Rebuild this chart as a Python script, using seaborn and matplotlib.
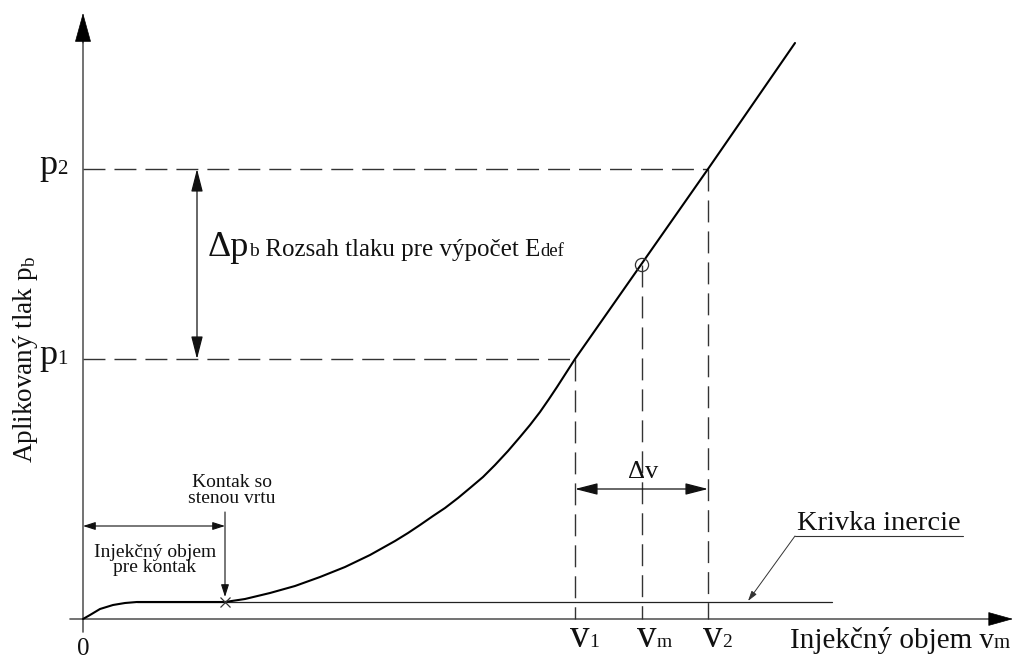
import matplotlib
matplotlib.use("Agg")
import matplotlib.pyplot as plt
import seaborn as sns

# loading curve (volume, pressure), arbitrary units
load_v = [0.0, 0.07, 0.17, 0.30, 0.42, 0.54, 1.42, 1.62, 1.87, 2.12, 2.37, 2.62, 2.87, 3.12,
          3.25, 3.37, 3.50, 3.62, 3.75, 3.87, 4.00, 4.12, 4.25, 4.37, 4.47, 4.57, 4.66,
          4.74, 4.83, 4.92, 6.25, 7.12]
load_p = [0.0, 0.04, 0.10, 0.14, 0.16, 0.17, 0.17, 0.20, 0.26, 0.33, 0.42, 0.52, 0.64, 0.78,
          0.86, 0.94, 1.03, 1.11, 1.21, 1.31, 1.42, 1.54, 1.68, 1.82, 1.94, 2.07, 2.20,
          2.32, 2.46, 2.60, 4.50, 5.76]

# inertia curve (flat part)
inertia_v = [0.54, 7.49]
inertia_p = [0.17, 0.17]

v_contact = 1.42
p_contact = 0.17

v_marks = [4.92, 5.59, 6.25]
v_tops = [2.60, 3.54, 4.50]
v_names = ["1", "m", "2"]

p_marks = [2.60, 4.50]
p_ends = [4.92, 6.25]
p_names = ["1", "2"]

v_mid, p_mid = 5.59, 3.54

sns.set_style("white")
plt.rcParams["font.family"] = ["Liberation Serif", "DejaVu Serif"]
plt.rcParams["mathtext.fontset"] = "custom"
plt.rcParams["mathtext.rm"] = "Liberation Serif"
plt.rcParams["mathtext.it"] = "Liberation Serif:italic"
plt.rcParams["lines.scale_dashes"] = False

fig = plt.figure(figsize=(10.16, 6.58), dpi=100)
ax = fig.add_axes([0, 0, 1, 1])
ax.set_xlim(-0.83, 9.33)
ax.set_ylim(-0.39, 6.19)
ax.axis("off")
renderer = fig.canvas.get_renderer()

INK = "#111111"
AXC = "#5a5a5a"
DASH = (0, (15.8, 6.5))


def arrow(x0, y0, x1, y1, style="-|>", hl=14.0, hw=3.6, lw=0.9, color=INK):
    ax.annotate("", xy=(x1, y1), xytext=(x0, y0),
                arrowprops=dict(arrowstyle=f"{style},head_length={hl},head_width={hw}",
                                mutation_scale=1, shrinkA=0, shrinkB=0, lw=lw, color=color))


def chain(x, y, parts):
    # pieces of text on one baseline, each starting where the last one ends
    for text, size in parts:
        t = ax.text(x, y, text, fontsize=size, ha="left", va="baseline", color=INK)
        bb = t.get_window_extent(renderer)
        x = ax.transData.inverted().transform((bb.x1, bb.y0))[0]


# axes with arrows
ax.plot([-0.13, 9.10], [0, 0], color=AXC, lw=1.2)
arrow(9.06, 0, 9.30, 0, hl=16.5, hw=4.6, lw=0.5, color="black")
ax.plot([0, 0], [-0.13, 5.82], color=AXC, lw=1.2)
arrow(0, 5.76, 0, 6.06, hl=19.5, hw=5.4, lw=0.5, color="black")

# dashed guides
for p, v_end in zip(p_marks, p_ends):
    ax.plot([0, v_end], [p, p], color="#333333", lw=1.0, linestyle=DASH)
for v, top in zip(v_marks, v_tops):
    ax.plot([v, v], [top, 0], color="#333333", lw=1.0, linestyle=DASH)

# curves
sns.lineplot(x=inertia_v, y=inertia_p, ax=ax, color="#222222", lw=0.9, sort=False, estimator=None)
sns.lineplot(x=load_v, y=load_p, ax=ax, color="black", lw=1.5, sort=False, estimator=None)

sns.scatterplot(x=[v_mid], y=[p_mid], ax=ax, s=90, facecolor="none",
                edgecolor="#333333", linewidth=0.9, zorder=5)
ax.plot([v_contact], [p_contact], marker="x", ms=7, mew=0.9, color="#333333", zorder=5)

# tick labels
for p, name in zip(p_marks, p_names):
    chain(-0.44, p - 0.05, [("p", 26), (name, 15)])
for v, name in zip(v_marks, v_names):
    chain(v - 0.05, -0.28, [("v", 28), (name, 14)])
ax.text(0, -0.19, "0", fontsize=18, ha="center", va="top", color=INK)

# axis titles
chain(7.07, -0.29, [("Injekčný objem v", 21), ("m", 15)])
ax.text(-0.51, 1.56, "Aplikovaný tlak p$_\\mathrm{b}$", rotation=90, rotation_mode="anchor",
        ha="left", va="baseline", fontsize=19.5, color=INK)

# pressure range
arrow(1.14, p_marks[0], 1.14, p_marks[1], style="<|-|>", hl=14.0, hw=3.6, lw=0.9)
chain(1.25, 3.63, [("Δp", 26), ("b", 14), (" Rozsah tlaku pre výpočet E", 18), ("def", 13.5)])

# volume range
arrow(v_marks[0], 1.30, v_marks[2], 1.30, style="<|-|>", hl=14.0, hw=3.6, lw=0.9)
ax.text(v_mid + 0.01, 1.41, "Δv", fontsize=19, ha="center", va="baseline", color=INK)

# contact volume
arrow(0, 0.93, v_contact, 0.93, style="<|-|>", hl=7.5, hw=2.4, lw=0.8)
ax.text(0.72, 0.62, "Injekčný objem", fontsize=14, ha="center", va="baseline", color=INK)
ax.text(0.72, 0.47, "pre kontak", fontsize=14, ha="center", va="baseline", color=INK)
arrow(v_contact, 1.07, v_contact, 0.22, hl=7.5, hw=2.4, lw=0.8)
ax.text(1.49, 1.32, "Kontak so", fontsize=14, ha="center", va="baseline", color=INK)
ax.text(1.49, 1.16, "stenou vrtu", fontsize=14, ha="center", va="baseline", color=INK)

# inertia label with leader
ax.text(7.14, 0.89, "Krivka inercie", fontsize=20.5, ha="left", va="baseline", color=INK)
ax.plot([7.12, 8.80], [0.83, 0.83], color="#333333", lw=0.8)
arrow(7.12, 0.83, 6.65, 0.18, hl=6.0, hw=1.8, lw=0.7, color="#333333")

fig.savefig("out.png", dpi=100, facecolor="white")
